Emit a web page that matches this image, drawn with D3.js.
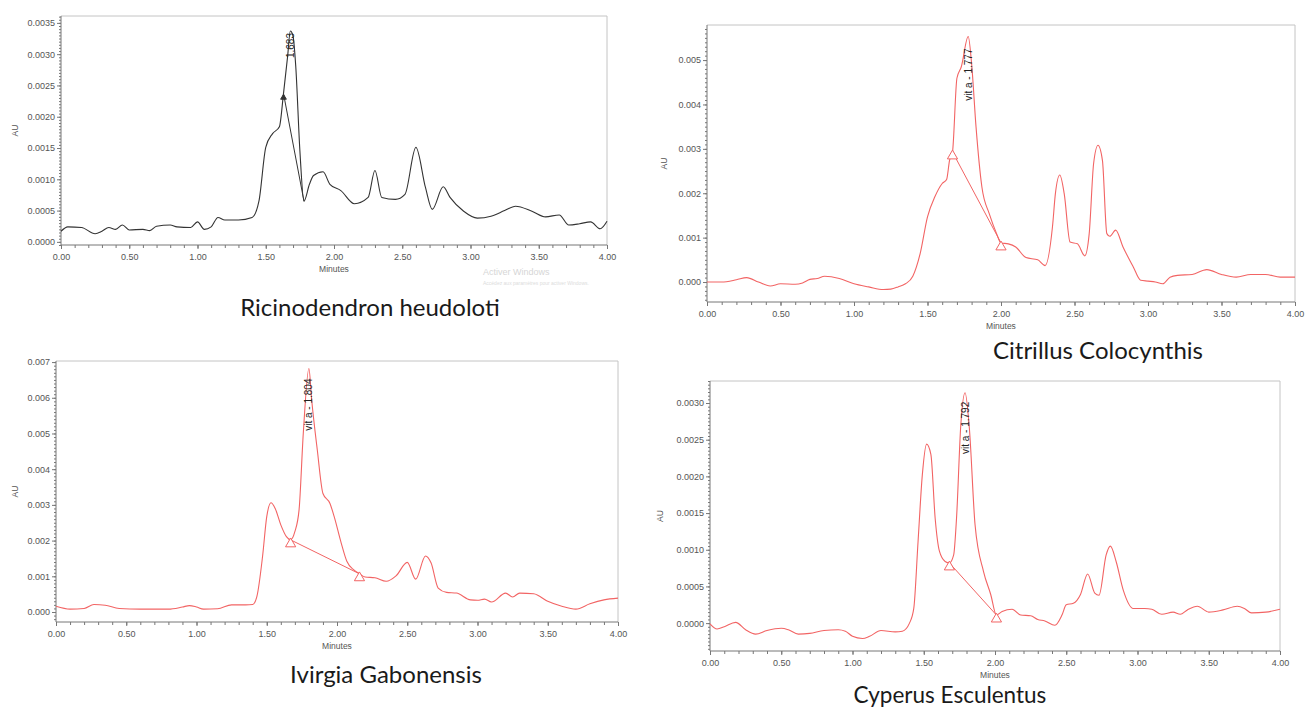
<!DOCTYPE html>
<html>
<head>
<meta charset="utf-8">
<style>
  body { margin: 0; background: #fff; }
  svg { display: block; font-family: 'Liberation Sans', Arial, sans-serif; }
  .axis .domain { stroke: #777; }
  .axis .tick line { stroke: #777; }
  .axis .tick text { fill: #555; font-size: 9px; }
  .axis-title { fill: #555; font-size: 8.5px; }
  .caption { fill: #1a1a1a; font-family: Lato, 'Open Sans', sans-serif; }
  .peak-label { fill: #222; font-size: 10px; }
</style>
</head>
<body>
<svg width="1306" height="707"></svg>

<script src="https://d3js.org/d3.v7.min.js"></script>
<script>

// ---- data (minutes, AU) ----
const xTicks = [0, 0.5, 1, 1.5, 2, 2.5, 3, 3.5, 4];

const ricTime = [0, 0.05, 0.15, 0.25, 0.3, 0.35, 0.4, 0.45, 0.5, 0.6, 0.65, 0.7, 0.8, 0.85, 0.95, 1.0, 1.05, 1.1, 1.15, 1.2, 1.3, 1.4, 1.45, 1.5, 1.55, 1.6, 1.63, 1.66, 1.68, 1.7, 1.72, 1.75, 1.78, 1.82, 1.85, 1.92, 1.97, 2.05, 2.15, 2.25, 2.3, 2.35, 2.45, 2.52, 2.6, 2.67, 2.72, 2.8, 2.85, 2.95, 3.05, 3.15, 3.25, 3.33, 3.45, 3.55, 3.65, 3.72, 3.8, 3.88, 3.95, 4.0];
const ricAU = [0.00017, 0.00024, 0.00023, 0.00013, 0.00017, 0.00023, 0.0002, 0.00027, 0.00019, 0.0002, 0.00018, 0.00025, 0.00027, 0.00024, 0.00023, 0.00032, 0.0002, 0.00024, 0.00039, 0.00035, 0.00035, 0.00039, 0.00065, 0.00151, 0.00173, 0.00184, 0.00237, 0.00296, 0.00337, 0.00329, 0.0028, 0.00146, 0.00065, 0.00092, 0.00106, 0.00112, 0.00092, 0.00082, 0.00061, 0.00071, 0.00114, 0.00071, 0.00068, 0.00076, 0.00151, 0.00087, 0.00052, 0.00088, 0.00071, 0.00049, 0.00038, 0.00041, 0.0005, 0.00057, 0.00049, 0.0004, 0.00043, 0.00027, 0.00029, 0.00032, 0.00021, 0.00033];
const ricYTicks = [0, 0.0005, 0.001, 0.0015, 0.002, 0.0025, 0.003, 0.0035];
const ricBase = [[1.63, 0.00237], [1.78, 0.00065]];
const ricPeak = { t: 1.68, v: 0.00337, label: "1.683" };

const citTime = [0, 0.1, 0.2, 0.27, 0.35, 0.43, 0.5, 0.6, 0.65, 0.7, 0.75, 0.8, 0.9, 1.0, 1.1, 1.2, 1.25, 1.3, 1.35, 1.4, 1.45, 1.5, 1.55, 1.6, 1.63, 1.65, 1.67, 1.7, 1.73, 1.777, 1.8, 1.83, 1.87, 1.92, 1.97, 2.0, 2.05, 2.1, 2.17, 2.25, 2.3, 2.35, 2.37, 2.4, 2.43, 2.47, 2.52, 2.57, 2.6, 2.63, 2.66, 2.69, 2.72, 2.74, 2.78, 2.83, 2.9, 2.95, 3.0, 3.05, 3.1, 3.15, 3.2, 3.3, 3.4, 3.5, 3.6, 3.7, 3.8, 3.9, 4.0];
const citAU = [0, 0, 0.00005, 0.0001, 0, -0.00009, -0.00004, -0.00005, -0.00002, 0.00006, 0.00008, 0.00013, 0.00008, -0.00004, -0.00011, -0.00017, -0.00016, -0.00011, -0.00004, 0.00013, 0.00064, 0.00147, 0.00192, 0.00222, 0.00231, 0.00274, 0.00293, 0.00459, 0.00485, 0.00553, 0.00492, 0.0035, 0.00214, 0.00154, 0.00109, 0.00088, 0.00086, 0.00079, 0.00055, 0.0005, 0.00037, 0.00124, 0.00199, 0.00241, 0.00199, 0.0009, 0.00086, 0.00059, 0.00109, 0.00267, 0.00308, 0.00274, 0.00109, 0.00103, 0.00117, 0.00079, 0.00034, 0.00004, 0.00002, 0, -0.00004, 0.00011, 0.00015, 0.00017, 0.00028, 0.00017, 0.00011, 0.00017, 0.00017, 0.00011, 0.00011];
const citYTicks = [0, 0.001, 0.002, 0.003, 0.004, 0.005];
const citBase = [[1.67, 0.00293], [2.0, 0.00088]];
const citPeak = { t: 1.777, v: 0.00553, label: "vit a - 1.777" };

const iviTime = [0, 0.1, 0.2, 0.27, 0.35, 0.45, 0.6, 0.8, 0.9, 0.95, 1.0, 1.05, 1.15, 1.25, 1.35, 1.4, 1.43, 1.47, 1.5, 1.53, 1.56, 1.6, 1.64, 1.67, 1.7, 1.73, 1.76, 1.8, 1.82, 1.86, 1.9, 1.95, 1.98, 2.03, 2.07, 2.12, 2.16, 2.2, 2.27, 2.35, 2.42, 2.5, 2.56, 2.63, 2.67, 2.72, 2.78, 2.85, 2.95, 3.0, 3.05, 3.1, 3.2, 3.25, 3.3, 3.4, 3.5, 3.6, 3.7, 3.8, 3.9, 4.0];
const iviAU = [0.00016, 0.00008, 0.0001, 0.00021, 0.00019, 0.0001, 0.00008, 0.00008, 0.00014, 0.00018, 0.00014, 0.00008, 0.00009, 0.0002, 0.0002, 0.00021, 0.00044, 0.00155, 0.00267, 0.00306, 0.0029, 0.00244, 0.00211, 0.00202, 0.00225, 0.00286, 0.005, 0.00682, 0.00593, 0.00453, 0.00332, 0.00304, 0.00267, 0.00193, 0.00142, 0.00118, 0.00107, 0.00098, 0.00096, 0.00086, 0.00101, 0.00139, 0.00092, 0.00157, 0.00137, 0.00067, 0.00055, 0.00053, 0.00034, 0.00033, 0.00036, 0.00028, 0.00053, 0.00042, 0.00053, 0.00051, 0.0003, 0.00016, 0.00008, 0.00023, 0.00034, 0.00039];
const iviYTicks = [0, 0.001, 0.002, 0.003, 0.004, 0.005, 0.006, 0.007];
const iviBase = [[1.67, 0.00202], [2.16, 0.00107]];
const iviPeak = { t: 1.8, v: 0.00682, label: "vit a - 1.804" };

const cypTime = [0, 0.05, 0.1, 0.18, 0.25, 0.32, 0.4, 0.5, 0.55, 0.62, 0.7, 0.8, 0.9, 0.95, 1.0, 1.07, 1.12, 1.2, 1.3, 1.35, 1.4, 1.43, 1.46, 1.49, 1.52, 1.55, 1.58, 1.61, 1.65, 1.68, 1.71, 1.73, 1.76, 1.79, 1.82, 1.86, 1.92, 1.97, 2.01, 2.05, 2.12, 2.18, 2.25, 2.3, 2.35, 2.42, 2.47, 2.5, 2.55, 2.6, 2.65, 2.7, 2.73, 2.78, 2.81, 2.85, 2.9, 2.97, 3.05, 3.1, 3.17, 3.25, 3.3, 3.35, 3.42, 3.5, 3.6, 3.7, 3.75, 3.8, 3.9, 4.0];
const cypAU = [-0.00001, -0.00008, -0.00005, 0.00001, -0.00009, -0.00015, -0.0001, -0.00007, -0.00009, -0.00015, -0.00014, -0.0001, -0.00009, -0.00011, -0.00018, -0.00021, -0.00018, -0.0001, -0.00012, -0.00011, 0, 0.0002, 0.00111, 0.00202, 0.00244, 0.0023, 0.00143, 0.00098, 0.00084, 0.00082, 0.00093, 0.00143, 0.0027, 0.00314, 0.00266, 0.00134, 0.0007, 0.00039, 0.00011, 0.00016, 0.00019, 0.00011, 0.0001, 0.00005, 0.00003, -0.00003, 0.00011, 0.00025, 0.00027, 0.00039, 0.00067, 0.00041, 0.00038, 0.00093, 0.00105, 0.00084, 0.00045, 0.0002, 0.0002, 0.00019, 0.00012, 0.00015, 0.00012, 0.00018, 0.00023, 0.00015, 0.00018, 0.00023, 0.0002, 0.00014, 0.00015, 0.00019];
const cypYTicks = [0, 0.0005, 0.001, 0.0015, 0.002, 0.0025, 0.003];
const cypBase = [[1.68, 0.00082], [2.01, 0.00011]];
const cypPeak = { t: 1.79, v: 0.00314, label: "vit a - 1.792" };

const captions = ["Ricinodendron heudoloti", "Citrillus Colocynthis", "Ivirgia Gabonensis", "Cyperus Esculentus"];

// ---- panel layout ----
let svg = d3.select("svg");

let panels = [
    { time: ricTime, au: ricAU, yTicks: ricYTicks, base: ricBase, peak: ricPeak, caption: captions[0],
      left: 61, right: 607, top: 16, bottom: 245, yMin: -0.00005, yMax: 0.00361, dec: 4,
      color: "#333", marker: "filled", auX: 18, capX: 370, capY: 316, capSize: 24, gap: 2 },
    { time: citTime, au: citAU, yTicks: citYTicks, base: citBase, peak: citPeak, caption: captions[1],
      left: 707, right: 1295, top: 25, bottom: 302, yMin: -0.00045, yMax: 0.00579, dec: 3,
      color: "#f26464", marker: "open", auX: 667, capX: 1098, capY: 359, capSize: 24, gap: 12 },
    { time: iviTime, au: iviAU, yTicks: iviYTicks, base: iviBase, peak: iviPeak, caption: captions[2],
      left: 56, right: 618, top: 361, bottom: 622, yMin: -0.00028, yMax: 0.00703, dec: 3,
      color: "#f26464", marker: "open", auX: 18, capX: 386, capY: 683, capSize: 24, gap: 10 },
    { time: cypTime, au: cypAU, yTicks: cypYTicks, base: cypBase, peak: cypPeak, caption: captions[3],
      left: 710, right: 1280, top: 381, bottom: 651, yMin: -0.00038, yMax: 0.0033, dec: 4,
      color: "#f26464", marker: "open", auX: 663, capX: 950, capY: 703, capSize: 22.5, gap: 9 }
];

panels.forEach(function (p) {
    let x = d3.scaleLinear().domain([0, 4]).range([p.left, p.right]);
    let y = d3.scaleLinear().domain([p.yMin, p.yMax]).range([p.bottom, p.top]);
    let g = svg.append("g");

    // light frame on top / right
    g.append("path")
        .attr("d", `M${p.left},${p.top}H${p.right}V${p.bottom}`)
        .style("fill", "none")
        .style("stroke", "#c4c4c4");

    // minor ticks
    let yStep = p.yTicks[1] - p.yTicks[0];
    let yMinor = d3.range(Math.ceil(p.yMin / (yStep / 10)), Math.floor(p.yMax / (yStep / 10)) + 1)
        .map(i => i * yStep / 10);
    g.append("g").attr("class", "axis")
        .attr("transform", `translate(${p.left},0)`)
        .call(d3.axisLeft(y).tickValues(yMinor).tickSize(2).tickFormat(""))
        .select(".domain").remove();
    g.append("g").attr("class", "axis")
        .attr("transform", `translate(0,${p.bottom})`)
        .call(d3.axisBottom(x).tickValues(d3.range(0, 41).map(i => i / 10)).tickSize(3).tickFormat(""))
        .select(".domain").remove();

    // major axes
    g.append("g").attr("class", "axis")
        .attr("transform", `translate(${p.left},0)`)
        .call(d3.axisLeft(y).tickValues(p.yTicks).tickSize(4).tickPadding(2)
            .tickFormat(d3.format("." + p.dec + "f")))
        .call(a => a.select(".domain").attr("d", `M0,${p.top}V${p.bottom}`));
    g.append("g").attr("class", "axis")
        .attr("transform", `translate(0,${p.bottom})`)
        .call(d3.axisBottom(x).tickValues(xTicks).tickSize(4).tickPadding(5)
            .tickFormat(d3.format(".2f")))
        .call(a => a.select(".domain").attr("d", `M${p.left},0H${p.right}`));

    g.append("text").attr("class", "axis-title")
        .attr("x", (p.left + p.right) / 2).attr("y", p.bottom + 27)
        .attr("text-anchor", "middle").text("Minutes");
    g.append("text").attr("class", "axis-title")
        .attr("transform", `translate(${p.auX},${(p.top + p.bottom) / 2}) rotate(-90)`)
        .attr("text-anchor", "middle").text("AU");

    // trace
    let pts = p.time.map((t, i) => [t, p.au[i]]);
    let line = d3.line()
        .x(d => x(d[0]))
        .y(d => y(d[1]))
        .curve(d3.curveMonotoneX);
    g.append("path")
        .attr("d", line(pts))
        .style("fill", "none")
        .style("stroke", p.color)
        .style("stroke-width", 1.1);

    // integration baseline + markers
    g.append("line")
        .attr("x1", x(p.base[0][0])).attr("y1", y(p.base[0][1]))
        .attr("x2", x(p.base[1][0])).attr("y2", y(p.base[1][1]))
        .style("stroke", p.color).style("stroke-width", 1);
    let tri = d3.symbol().type(d3.symbolTriangle);
    let marks = p.marker == "filled" ? [p.base[0]] : p.base;
    g.selectAll(".mk").data(marks).join("path")
        .attr("transform", d => `translate(${x(d[0])},${y(d[1]) + 4})`)
        .attr("d", tri.size(p.marker == "filled" ? 14 : 45))
        .style("fill", p.marker == "filled" ? p.color : "white")
        .style("stroke", p.color);

    // peak label
    g.append("text").attr("class", "peak-label")
        .attr("transform", `translate(${x(p.peak.t) + 3.5},${y(p.peak.v) + p.gap}) rotate(-90)`)
        .attr("text-anchor", "end")
        .text(p.peak.label);

    svg.append("text").attr("class", "caption")
        .attr("x", p.capX).attr("y", p.capY)
        .attr("text-anchor", "middle")
        .style("font-size", p.capSize + "px")
        .text(p.caption);
});

// faint OS watermark visible in the source picture
svg.append("text").attr("x", 483).attr("y", 275)
    .style("font-size", "9px").style("fill", "#d6d6d6").text("Activer Windows");
svg.append("text").attr("x", 483).attr("y", 285)
    .style("font-size", "5px").style("fill", "#dcdcdc").text("Accédez aux paramètres pour activer Windows.");

</script>
</body>
</html>
